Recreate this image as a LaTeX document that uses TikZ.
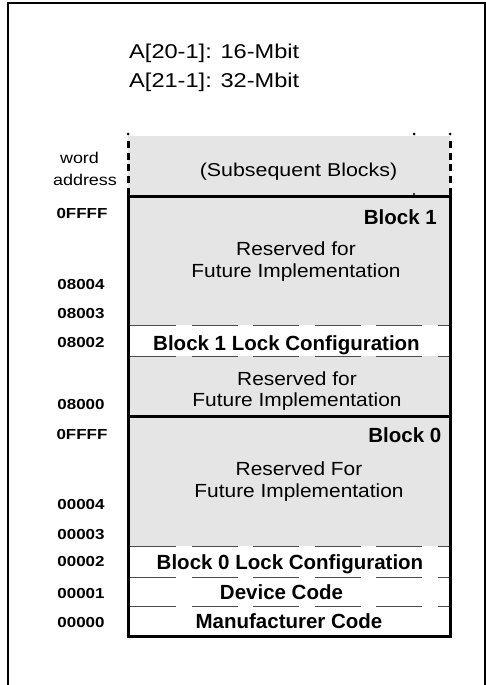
\documentclass[tikz,border=0pt]{standalone}
\usepackage{fontspec}
\setmainfont{Liberation Sans}
\newcommand{\hstretch}[2]{\scalebox{#1}[1]{#2}}
\begin{document}
\begin{tikzpicture}[x=1pt,y=-1pt,
  thickline/.style={line width=3pt},
  sepline/.style={line width=1pt, draw=black!70, dash pattern=on 46pt off 15.5pt},
  shadefill/.style={fill=black!10},
  addr/.style={font=\fontsize{14.5}{16}\selectfont\bfseries, anchor=base, inner sep=0pt},
  boldtxt/.style={font=\fontsize{20.5}{22}\selectfont\bfseries, anchor=base, inner sep=0pt},
  plaintxt/.style={font=\fontsize{19}{22}\selectfont, anchor=base, inner sep=0pt},
  dotmark/.style={fill=black, circle, inner sep=0pt, minimum size=3pt}
]
\useasboundingbox (0,0) rectangle (486,685);
% outer frame
\draw[line width=2pt] (8,685) -- (8,3) -- (485,3) -- (485,685);

% fills
\fill[shadefill] (128,136) rectangle (450,196);
\fill[shadefill] (128,196) rectangle (450,325);
\fill[shadefill] (128,356) rectangle (450,416);
\fill[shadefill] (128,416) rectangle (450,546);

% dashed separators
\draw[sepline] (130,325) -- (450,325);
\draw[sepline] (130,356) -- (450,356);
\draw[sepline] (130,546) -- (450,546);
\draw[sepline] (130,577) -- (450,577);
\draw[sepline] (130,606) -- (450,606);

% subsequent blocks dashed sides
\draw[line width=3pt, dash pattern=on 7pt off 4.7pt] (128,141) -- (128,196);
\draw[line width=3pt, dash pattern=on 7pt off 4.7pt] (450,141) -- (450,196);
\node[dotmark] (d1) at (128,134) {};
\node[dotmark] (d2) at (450,134) {};
\node[dotmark] (d3) at (414,134) {};
\node[dotmark, minimum size=2.4pt] (d4) at (414,194) {};

% main box
\draw[thickline] (128,196) rectangle (450,636);
\draw[thickline] (128,416) -- (450,416);

% title
\node[plaintxt, anchor=base west] (t1) at (129,59) {\hstretch{1.18}{\fontsize{20}{22}\selectfont A[20-1]: 16-Mbit}};
\node[plaintxt, anchor=base west] (t2) at (129,87) {\hstretch{1.18}{\fontsize{20}{22}\selectfont A[21-1]: 32-Mbit}};

% word address
\node[plaintxt] (w1) at (79.5,163) {\hstretch{1.15}{\fontsize{15.6}{18}\selectfont word}};
\node[plaintxt] (w2) at (85,185) {\hstretch{1.15}{\fontsize{15.6}{18}\selectfont address}};

\node[plaintxt] (sub) at (298.5,176.5) {\hstretch{1.15}{\fontsize{18.6}{22}\selectfont (Subsequent Blocks)}};

% block 1
\node[boldtxt, anchor=base east] (b1) at (437,224) {Block 1};
\node[plaintxt] (r1a) at (296,255) {\hstretch{1.1}{Reserved for}};
\node[plaintxt] (r1b) at (296,277) {\hstretch{1.1}{Future Implementation}};
\node[boldtxt] (l1) at (286.5,350.5) {Block 1 Lock Configuration};
\node[plaintxt] (r2a) at (297,385) {\hstretch{1.1}{Reserved for}};
\node[plaintxt] (r2b) at (297,406) {\hstretch{1.1}{Future Implementation}};

% block 0
\node[boldtxt, anchor=base east] (b0) at (441.5,442.5) {Block 0};
\node[plaintxt] (r3a) at (299,475) {\hstretch{1.1}{Reserved For}};
\node[plaintxt] (r3b) at (299,497) {\hstretch{1.1}{Future Implementation}};
\node[boldtxt] (l0) at (290,569) {Block 0 Lock Configuration};
\node[boldtxt] (dc) at (281.5,599) {Device Code};
\node[boldtxt] (mc) at (289,628) {Manufacturer Code};

% addresses
\node[addr] (a1) at (82,218.5) {\hstretch{1.17}{0FFFF}};
\node[addr] (a2) at (81,289) {\hstretch{1.17}{08004}};
\node[addr] (a3) at (81,318) {\hstretch{1.17}{08003}};
\node[addr] (a4) at (81,347.7) {\hstretch{1.17}{08002}};
\node[addr] (a5) at (81,409) {\hstretch{1.17}{08000}};
\node[addr] (a6) at (82,439.3) {\hstretch{1.17}{0FFFF}};
\node[addr] (a7) at (81,509) {\hstretch{1.17}{00004}};
\node[addr] (a8) at (81,539) {\hstretch{1.17}{00003}};
\node[addr] (a9) at (81,566.7) {\hstretch{1.17}{00002}};
\node[addr] (a10) at (81,598) {\hstretch{1.17}{00001}};
\node[addr] (a11) at (81,627.5) {\hstretch{1.17}{00000}};
\end{tikzpicture}
\end{document}
